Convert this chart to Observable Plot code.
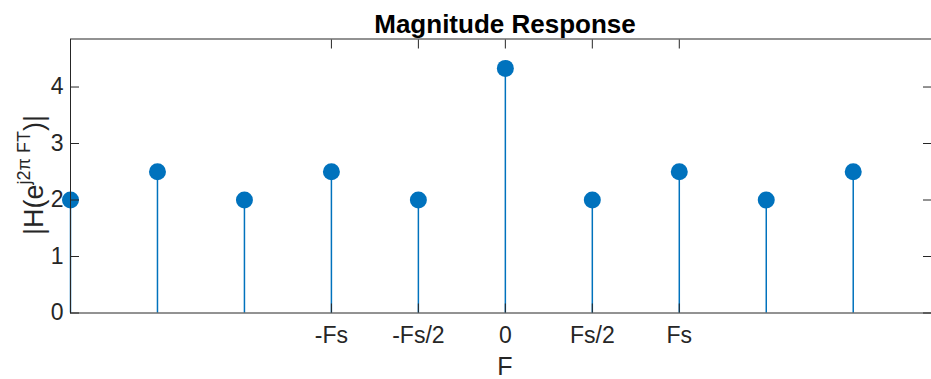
<!DOCTYPE html>
<html>
<head>
<meta charset="utf-8">
<script src="https://cdn.jsdelivr.net/npm/d3@7"></script>
<script src="https://cdn.jsdelivr.net/npm/@observablehq/plot@0.6"></script>
<style>
  html, body { margin: 0; padding: 0; background: #fff; }
  body { width: 931px; height: 379px; overflow: hidden; font-family: "Liberation Sans", Arial, sans-serif; }
  #title { height: 30px; position: relative; }
  #title span { position: absolute; left: 255px; width: 500px; top: 11px; text-align: center;
    font: bold 26px/26px "Liberation Sans", Arial, sans-serif; color: #000; }
  #chart svg { display: block; }
</style>
</head>
<body>
<div id="title"><span>Magnitude Response</span></div>
<div id="chart"></div>
<script>
// Frequency positions in units of Fs/2
const freqs = [-5, -4, -3, -2, -1, 0, 1, 2, 3, 4];
const magnitude = [2, 2.5, 2, 2.5, 2, 4.33, 2, 2.5, 2, 2.5];
const xTickValues = [-2, -1, 0, 1, 2];
const xTickLabels = ["-Fs", "-Fs/2", "0", "Fs/2", "Fs"];
const yTickValues = [0, 1, 2, 3, 4];

const data = freqs.map((f, i) => ({f, m: magnitude[i]}));
const blue = "#0072BD";
const ink = "#262626";
const fmtX = d => xTickLabels[xTickValues.indexOf(d)];

const plot = Plot.plot({
  width: 931,
  height: 349,
  marginLeft: 70,
  marginRight: 0,
  marginTop: 8.5,
  marginBottom: 66.5,
  style: {fontFamily: "'Liberation Sans', Arial, sans-serif", color: ink, background: "#fff", overflow: "visible"},
  x: {domain: [-5, 4.9]},
  y: {domain: [0, 4.85]},
  marks: [
    Plot.ruleX(data, {x: "f", y1: 0, y2: "m", stroke: blue, strokeWidth: 1.5}),
    Plot.dot(data, {x: "f", y: "m", r: 8.5, fill: blue, stroke: "none"}),
    Plot.frame({stroke: ink, strokeWidth: 1}),
    // inward ticks
    Plot.axisX({anchor: "bottom", ticks: xTickValues, tickSize: -9, tickFormat: () => "", stroke: ink, label: null}),
    Plot.axisX({anchor: "top", ticks: xTickValues, tickSize: -9, tickFormat: () => "", stroke: ink, label: null}),
    Plot.axisY({anchor: "left", ticks: yTickValues, tickSize: -9, tickFormat: () => "", stroke: ink, label: null}),
    Plot.axisY({anchor: "right", ticks: yTickValues, tickSize: -9, tickFormat: () => "", stroke: ink, label: null}),
    // tick labels
    Plot.axisX({anchor: "bottom", ticks: xTickValues, tickSize: 0, tickPadding: 14, tickFormat: fmtX, fontSize: 23, fill: ink, label: null}),
    Plot.axisY({anchor: "left", ticks: yTickValues, tickSize: 0, tickPadding: 7, tickFormat: d => String(d), fontSize: 23, fill: ink, label: null})
  ]
});
document.getElementById("chart").appendChild(plot);

// axis labels
const svg = d3.select(plot);
svg.append("text")
  .attr("x", 505).attr("y", 345)
  .attr("text-anchor", "middle")
  .attr("font-size", 25).attr("fill", ink)
  .text("F");

const yMid = 145;
const yl = svg.append("text")
  .attr("transform", `translate(43,${yMid}) rotate(-90)`)
  .attr("text-anchor", "middle")
  .attr("font-size", 27).attr("fill", ink);
yl.append("tspan").text("|H(e");
yl.append("tspan").attr("font-size", 18).attr("dy", -13).text("j2π FT");
yl.append("tspan").attr("dy", 13).text(")|");
</script>
</body>
</html>
